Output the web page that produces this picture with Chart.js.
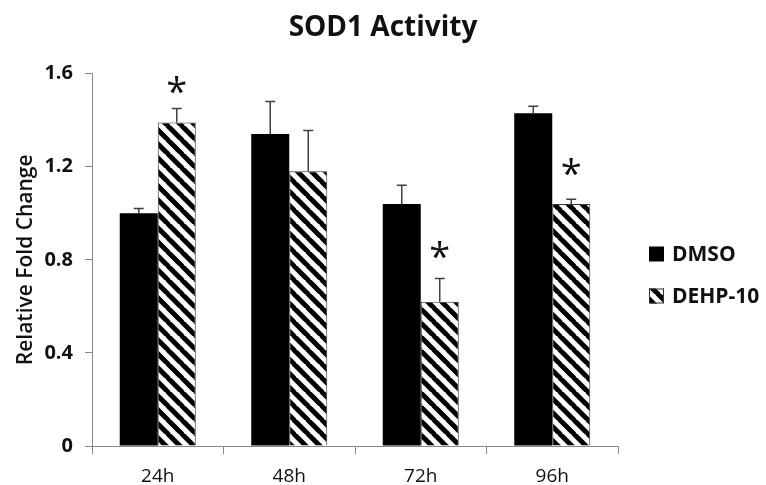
<!DOCTYPE html>
<html>
<head>
<meta charset="utf-8">
<script src="https://cdn.jsdelivr.net/npm/chart.js@4.4.1/dist/chart.umd.min.js"></script>
<style>
  html, body { margin: 0; padding: 0; background: #fff; }
  #wrap { width: 766px; height: 485px; }
</style>
</head>
<body>
<div id="wrap"><canvas id="chart" width="766" height="485"></canvas></div>
<script>
'use strict';

// Values
var timepoints = ['24h', '48h', '72h', '96h'];
var dmsoMean = [1.00, 1.34, 1.04, 1.43];
var dmsoErr = [0.02, 0.14, 0.08, 0.03];
var dehpMean = [1.39, 1.18, 0.62, 1.04];
var dehpErr = [0.06, 0.175, 0.10, 0.02];
// height of the significance asterisk (null = none)
var dehpStar = [1.55, null, 0.84, 1.20];
var yTicks = [0, 0.4, 0.8, 1.2, 1.6];

var FONT = "'Open Sans', sans-serif";

function makeHatch() {
  var size = 14;
  var c = document.createElement('canvas');
  c.width = size;
  c.height = size;
  var g = c.getContext('2d');
  g.fillStyle = '#fff';
  g.fillRect(0, 0, size, size);
  g.strokeStyle = '#000';
  g.lineWidth = 5;
  g.beginPath();
  // "\" stripes, drawn three times so the tile wraps cleanly
  [-size, 0, size].forEach(function (off) {
    g.moveTo(off - 1, -1);
    g.lineTo(off + size + 1, size + 1);
  });
  g.stroke();
  return g.createPattern(c, 'repeat');
}

var hatch = makeHatch();

// Error bars (upper only) and asterisks
var errorBarPlugin = {
  id: 'errorBars',
  afterDatasetsDraw: function (chart) {
    var ctx = chart.ctx,
        y = chart.scales.y,
        errs = [dmsoErr, dehpErr];
    ctx.save();
    ctx.strokeStyle = '#404040';
    ctx.lineWidth = 1.5;
    chart.data.datasets.forEach(function (ds, di) {
      var meta = chart.getDatasetMeta(di);
      meta.data.forEach(function (bar, i) {
        var top = y.getPixelForValue(ds.data[i] + errs[di][i]);
        ctx.beginPath();
        ctx.moveTo(bar.x, bar.y);
        ctx.lineTo(bar.x, top);
        ctx.moveTo(bar.x - 5, top);
        ctx.lineTo(bar.x + 5, top);
        ctx.stroke();
      });
    });

    ctx.fillStyle = '#111';
    ctx.font = '38px ' + FONT;
    ctx.textAlign = 'center';
    ctx.textBaseline = 'alphabetic';
    var m = ctx.measureText('*'),
        mid = (m.actualBoundingBoxAscent - m.actualBoundingBoxDescent) / 2;
    var dehpMeta = chart.getDatasetMeta(1);
    dehpStar.forEach(function (v, i) {
      if (v === null) return;
      ctx.fillText('*', dehpMeta.data[i].x, y.getPixelForValue(v) + mid);
    });
    ctx.restore();
  }
};

// Legend on the right, box + label
var sideLegendPlugin = {
  id: 'sideLegend',
  afterDraw: function (chart) {
    var ctx = chart.ctx,
        x = 649,
        rows = [254, 296];
    ctx.save();
    ctx.font = 'bold 21px ' + FONT;
    ctx.textBaseline = 'middle';
    ctx.textAlign = 'left';
    chart.data.datasets.forEach(function (ds, i) {
      var cy = rows[i];
      ctx.fillStyle = ds.backgroundColor;
      ctx.fillRect(x, cy - 7.5, 15, 15);
      if (ds.borderWidth) {
        ctx.strokeStyle = ds.borderColor;
        ctx.lineWidth = 1;
        ctx.strokeRect(x + 0.5, cy - 7, 14, 14);
      }
      ctx.fillStyle = '#111';
      ctx.fillText(ds.label, x + 23, cy + 1);
    });
    ctx.restore();
  }
};

new Chart(document.getElementById('chart'), {
  type: 'bar',
  data: {
    labels: timepoints,
    datasets: [{
      label: 'DMSO',
      data: dmsoMean,
      backgroundColor: '#000',
      borderWidth: 0
    }, {
      label: 'DEHP-10',
      data: dehpMean,
      backgroundColor: hatch,
      borderColor: '#333',
      borderWidth: 1
    }]
  },
  options: {
    responsive: false,
    animation: false,
    events: [],
    layout: { padding: 0 },
    datasets: {
      bar: { categoryPercentage: 0.578, barPercentage: 1.0 }
    },
    plugins: {
      legend: { display: false },
      tooltip: { enabled: false },
      title: {
        display: true,
        text: 'SOD1 Activity',
        color: '#111',
        font: { family: FONT, size: 28, weight: 'bold' },
        padding: { top: 11, bottom: 29 }
      }
    },
    scales: {
      x: {
        grid: {
          offset: true,
          drawOnChartArea: false,
          color: '#888',
          tickLength: 8
        },
        border: { color: '#888', width: 1 },
        ticks: {
          color: '#111',
          padding: 11,
          font: { family: FONT, size: 19 }
        },
        afterFit: function (scale) { scale.height = 39; }
      },
      y: {
        min: 0,
        max: 1.6,
        afterBuildTicks: function (scale) {
          scale.ticks = yTicks.map(function (v) { return { value: v }; });
        },
        grid: {
          drawOnChartArea: false,
          color: '#888',
          tickLength: 7
        },
        border: { color: '#888', width: 1 },
        ticks: {
          color: '#111',
          padding: 12,
          font: { family: FONT, size: 20, weight: 'bold' },
          callback: function (v) { return v === 0 ? '0' : v.toFixed(1); }
        },
        title: {
          display: true,
          text: 'Relative Fold Change',
          color: '#111',
          font: { family: FONT, size: 21, weight: '600' },
          padding: { top: 13, bottom: 0 }
        },
        afterFit: function (scale) { scale.width = 92; }
      },
      // empty axis on the right that holds the room for the legend
      legendSpace: {
        type: 'linear',
        position: 'right',
        display: true,
        grid: { display: false },
        border: { display: false },
        ticks: { display: false },
        afterFit: function (scale) { scale.width = 148; }
      }
    }
  },
  plugins: [errorBarPlugin, sideLegendPlugin]
});
</script>
</body>
</html>
